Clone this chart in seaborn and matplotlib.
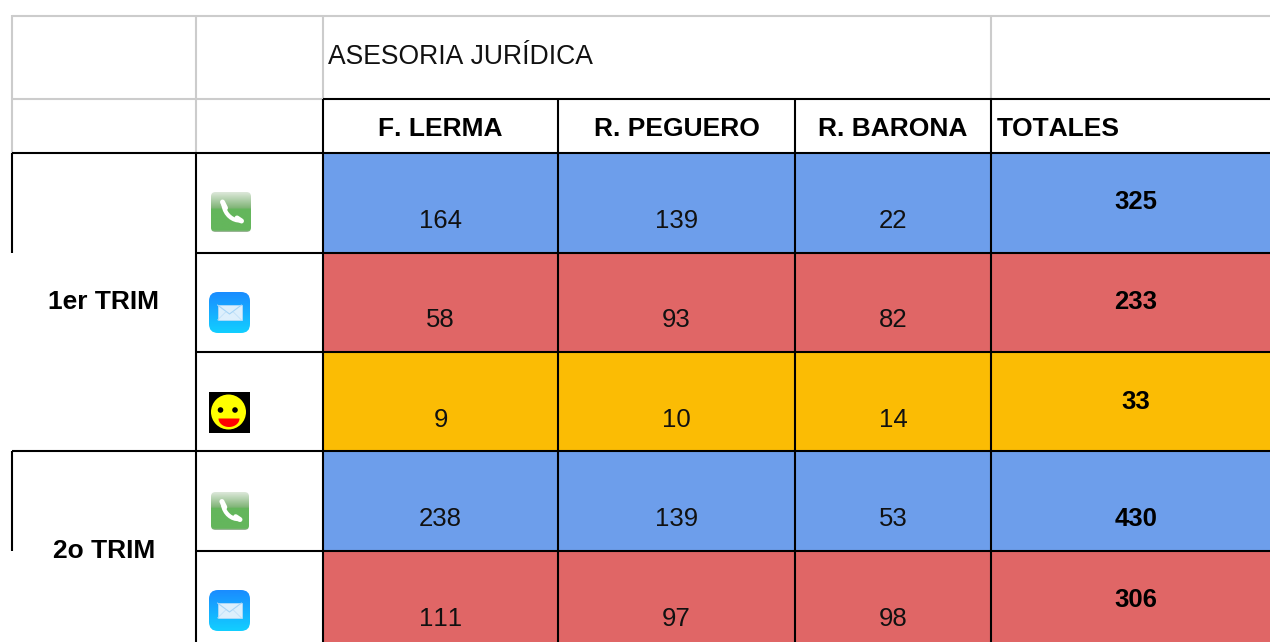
import numpy as np
import pandas as pd
import matplotlib
matplotlib.use("Agg")
import matplotlib.pyplot as plt
from matplotlib.colors import ListedColormap, LinearSegmentedColormap
from matplotlib.patches import FancyBboxPatch, Circle, Polygon, Rectangle
from matplotlib.path import Path
import matplotlib.patches as mp
import seaborn as sns

columns = ["F. LERMA", "R. PEGUERO", "R. BARONA", "TOTALES"]
row_channel = ["phone", "mail", "smile", "phone", "mail"]
f_lerma = [164, 58, 9, 238, 111]
r_peguero = [139, 93, 10, 139, 97]
r_barona = [22, 82, 14, 53, 98]
totales = [325, 233, 33, 430, 306]
title = "ASESORIA JURÍDICA"
trimesters = ["1er TRIM", "2o TRIM"]

BLUE, RED, YEL = "#6D9EEB", "#E06666", "#FBBC04"
GRAY = "#CCCCCC"
sns.set_theme(style="white", rc={"font.family": ["Liberation Sans", "DejaVu Sans"],
                                 "text.kerning_factor": 6})

W, H = 1270, 642
fig = plt.figure(figsize=(W / 100, H / 100), dpi=100, facecolor="white")

col_edges = [323, 558, 795, 991, 1270]
vals = np.array([f_lerma, r_peguero, r_barona, totales]).T
df = pd.DataFrame(vals, columns=columns)
cats = np.array([{"phone": 0, "mail": 1, "smile": 2}[c] for c in row_channel])
cmap = ListedColormap([BLUE, RED, YEL])

# y position of the value text inside each row (fraction of a row)
val_off = 0.685
tot_off = [0.49, 0.50, 0.51, 0.68, 0.50]

for j, col in enumerate(columns):
    l, r = col_edges[j], col_edges[j + 1]
    ax = fig.add_axes([l / W, 1 - 642 / H, (r - l) / W, (642 - 153) / H])
    sns.heatmap(pd.DataFrame({col: cats}), ax=ax, cmap=cmap, vmin=0, vmax=2,
                cbar=False, xticklabels=False, yticklabels=False)
    ax.set_ylim((642 - 153) / 99.4, 0)
    ax.set_xlabel(""); ax.set_ylabel("")
    for i, v in enumerate(df[col]):
        if col == "TOTALES":
            ax.text(0.52, i + tot_off[i], str(v), ha="center", va="center",
                    fontsize=18.5, fontweight="bold", color="black")
        else:
            ax.text(0.5, i + val_off, str(v), ha="center", va="center",
                    fontsize=18.5, color="#111111")

ov = fig.add_axes([0, 0, 1, 1], zorder=5)
ov.set_xlim(0, W); ov.set_ylim(H, 0); ov.axis("off"); ov.patch.set_alpha(0)


def hl(y, x0, x1, c="black", lw=1.5):
    ov.plot([x0, x1], [y, y], color=c, lw=lw, solid_capstyle="butt", zorder=3)


def vl(x, y0, y1, c="black", lw=1.5):
    ov.plot([x, x], [y0, y1], color=c, lw=lw, solid_capstyle="butt", zorder=3)


hl(16, 12, W, GRAY)
hl(99, 12, 323, GRAY)
for x in (12, 196):
    vl(x, 15, 153, GRAY)
for x in (323, 991):
    vl(x, 15, 99, GRAY)
hl(99, 323, W)
hl(153, 12, W)
hl(451, 12, W)
for y in (253, 352, 551):
    hl(y, 196, W)
vl(12, 153, 253)
vl(12, 451, 551)
vl(196, 153, 642)
for x in col_edges[:-1]:
    vl(x, 99, 642)

ov.text(328, 57, title, fontsize=19.1, ha="left", va="center", color="#111111")
for j, c in enumerate(columns[:3]):
    ov.text((col_edges[j] + col_edges[j + 1]) / 2, 129, c,
            fontsize=19, fontweight="bold", ha="center", va="center", color="black")
ov.text(997, 129, columns[3], fontsize=19, fontweight="bold", ha="left", va="center", color="black")
ov.text(104, 302, trimesters[0], fontsize=19, fontweight="bold", ha="center", va="center", color="black")
ov.text(104, 551, trimesters[1], fontsize=19, fontweight="bold", ha="center", va="center", color="black")


def grad_box(x, y, s, stops, rad):
    box = FancyBboxPatch((x + rad, y + rad), s - 2 * rad, s - 2 * rad,
                         boxstyle=f"round,pad={rad},rounding_size={rad}",
                         fc="none", ec="none", transform=ov.transData)
    ov.add_patch(box)
    g = np.linspace(0, 1, 128)[:, None]
    im = ov.imshow(g, extent=(x, x + s, y + s, y), aspect="auto", origin="upper",
                   cmap=LinearSegmentedColormap.from_list("g", stops), zorder=4)
    im.set_clip_path(box)
    ov.set_xlim(0, W); ov.set_ylim(H, 0)


def phone(x, y, s):
    grad_box(x, y, s, [(0, "#DDE8DA"), (0.40, "#7FB476"), (0.42, "#64B65C"),
                       (0.96, "#64B65C"), (1, "#A9B5A6")], 4.5)
    k = s / 40
    P = lambda a, b: (x + a * k, y + b * k)
    verts = [P(12.5, 13), P(14, 23), P(22, 29), P(29.5, 28.5)]
    p = Path(verts, [Path.MOVETO, Path.CURVE4, Path.CURVE4, Path.CURVE4])
    ov.add_patch(mp.PathPatch(p, fc="none", ec="white", lw=3.0, zorder=5, capstyle="round"))
    for a, b, c, d in [(11.5, 10, 14.5, 16), (26, 26, 30.5, 29)]:
        ov.plot([P(a, b)[0], P(c, d)[0]], [P(a, b)[1], P(c, d)[1]], color="white",
                lw=3.6, solid_capstyle="round", zorder=5)


def mail(x, y, s):
    grad_box(x, y, s, [(0, "#1A8CFF"), (1, "#12CFFF")], 9)
    ex0, ey0, ew, eh = x + 8.5, y + 13, 24, 15
    ov.add_patch(Rectangle((ex0, ey0), ew, eh, fc="#DDEFFC", ec="#BBDDF8", lw=0.5, zorder=5))
    ov.plot([ex0, ex0 + ew / 2, ex0 + ew], [ey0, ey0 + eh * 0.6, ey0], color="#A6D4F6", lw=0.8, zorder=6)
    ov.plot([ex0, ex0 + ew * .35], [ey0 + eh, ey0 + eh * .45], color="#BBDDF8", lw=0.5, zorder=6)
    ov.plot([ex0 + ew, ex0 + ew * .65], [ey0 + eh, ey0 + eh * .45], color="#BBDDF8", lw=0.5, zorder=6)


def smile(x, y, s):
    ov.add_patch(Rectangle((x, y), s, s, fc="black", ec="none", zorder=4))
    cx, cy = x + 19.5, y + 20
    ov.add_patch(Circle((cx, cy), 17.5, fc="#FFFF00", ec="none", zorder=5))
    ov.add_patch(Circle((cx - 8, cy - 2), 2.8, fc="black", ec="none", zorder=6))
    ov.add_patch(Circle((cx + 6.5, cy - 2), 2.8, fc="black", ec="none", zorder=6))
    th = np.linspace(0, np.pi, 30)
    mx, my = cx + 0.5, cy + 6.5
    ov.add_patch(Polygon(np.c_[mx + 10.5 * np.cos(th), my + 8.5 * np.sin(th)],
                         closed=True, fc="#FF0000", ec="none", zorder=6))


icon_pos = [(211, 192, 40), (209, 292, 41), (209, 392, 41), (211, 492, 38), (209, 590, 41)]
draw = {"phone": phone, "mail": mail, "smile": smile}
for (x, y, s), ch in zip(icon_pos, row_channel):
    draw[ch](x, y, s)

fig.savefig("out.png", dpi=100, facecolor="white")
